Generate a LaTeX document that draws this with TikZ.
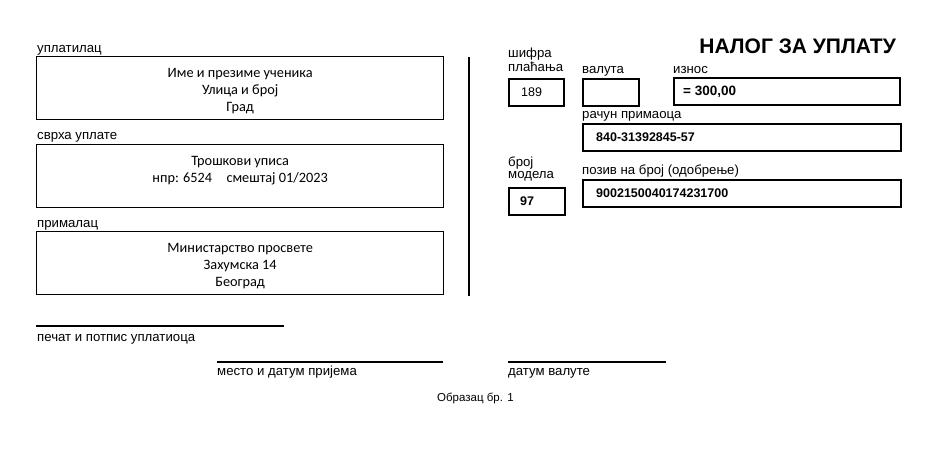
\documentclass[tikz,border=0pt]{standalone}
\usepackage{fontspec}
\setmainfont{Liberation Sans}
\newfontfamily\boxfont{Carlito}
\usetikzlibrary{positioning}

\begin{document}
\begin{tikzpicture}[x=1pt, y=-1pt,
    lbl/.style={anchor=base west, inner sep=0pt, font=\fontsize{13.2}{12}\selectfont, align=left},
    leftbox/.style={draw, line width=1.3pt, anchor=north west, minimum width=407pt, minimum height=63pt, inner sep=0pt},
    boxtext/.style={anchor=north, align=center, inner sep=0pt, font=\boxfont\fontsize{14.3}{17}\selectfont},
    field/.style={draw, line width=2pt, anchor=north west, minimum height=27pt, inner sep=0pt},
    fieldtext/.style={anchor=west, inner sep=0pt, font=\bfseries\fontsize{12.5}{14}\selectfont},
    sigline/.style={line width=1.8pt}]
    \useasboundingbox (0,0) rectangle (942,450);

    % left half: payer, purpose, recipient
    \node[leftbox] (payer) at (36,56) {};
    \node[lbl] (payerlbl) at (37,52) {уплатилац};
    \node[boxtext] (payertxt) at ([yshift=-12pt]payer.north) {Име и презиме ученика\\Улица и број\\Град};

    \node[leftbox] (purpose) at (36,144) {};
    \node[lbl] (purposelbl) at (37,139) {сврха уплате};
    \node[boxtext] (purposetxt) at ([yshift=-12pt]purpose.north) {Трошкови уписа\\нпр: 6524\quad смештај 01/2023};

    \node[leftbox] (recipient) at (36,231) {};
    \node[lbl] (recipientlbl) at (37,227) {прималац};
    \node[boxtext] (recipienttxt) at ([yshift=-12pt]recipient.north) {Министарство просвете\\Захумска 14\\Београд};

    \coordinate (divtop) at (469,57);
    \coordinate (divbot) at (469,296);
    \draw[line width=2.5pt] (divtop) -- (divbot);

    % right half
    \node[anchor=base east, inner sep=0pt, font=\bfseries\fontsize{21}{24}\selectfont] (title) at (896,53) {НАЛОГ ЗА УПЛАТУ};

    \node[lbl] (codelbl) at (508,71) {шифра\\плаћања};
    \node[field, minimum width=55pt] (code) at (508,78) {};
    \node[fieldtext, font=\fontsize{12.5}{14}\selectfont] (codetxt) at ([xshift=13pt]code.west) {189};

    \node[lbl] (currlbl) at (582,73) {валута};
    \node[field, minimum width=56pt] (curr) at (582,78) {};

    \node[lbl] (amountlbl) at (673,73) {износ};
    \node[field, minimum width=226pt, line width=2.4pt] (amount) at (673,77) {};
    \node[fieldtext, font=\bfseries\fontsize{13.5}{15}\selectfont] (amounttxt) at ([xshift=10pt]amount.west) {= 300,00};

    \node[lbl] (acctlbl) at (582,118) {рачун примаоца};
    \node[field, minimum width=318pt] (acct) at (582,123) {};
    \node[fieldtext] (accttxt) at ([xshift=14pt]acct.west) {840-31392845-57};

    \node[lbl] (modellbl) at (508,178) {број\\модела};
    \node[field, minimum width=56pt] (model) at (508,187) {};
    \node[fieldtext] (modeltxt) at ([xshift=12pt]model.west) {97};

    \node[lbl] (reflbl) at (582,174) {позив на број (одобрење)};
    \node[field, minimum width=318pt] (ref) at (582,179) {};
    \node[fieldtext] (reftxt) at ([xshift=14pt]ref.west) {9002150040174231700};

    % signature lines
    \coordinate (sigA) at (36,326);
    \coordinate (sigB) at (284,326);
    \draw[sigline] (sigA) -- (sigB);
    \node[lbl] (siglbl) at (37,341) {печат и потпис уплатиоца};

    \coordinate (placeA) at (217,362);
    \coordinate (placeB) at (443,362);
    \draw[sigline] (placeA) -- (placeB);
    \node[lbl] (placelbl) at (217,375) {место и датум пријема};

    \coordinate (dateA) at (508,362);
    \coordinate (dateB) at (666,362);
    \draw[sigline] (dateA) -- (dateB);
    \node[lbl] (datelbl) at (508,375) {датум валуте};

    \node[lbl, font=\fontsize{11.5}{13}\selectfont] (formno) at (437,401) {Образац бр. 1};
\end{tikzpicture}
\end{document}
